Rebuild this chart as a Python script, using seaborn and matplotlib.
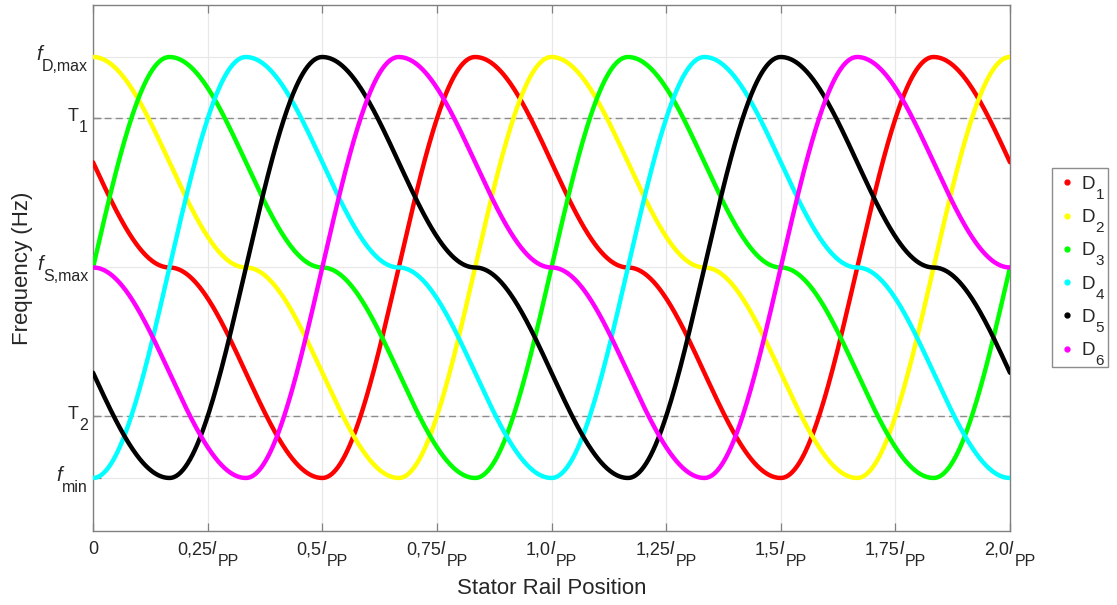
import numpy as np
import pandas as pd
import matplotlib
matplotlib.use("Agg")
import matplotlib.pyplot as plt
from matplotlib.lines import Line2D
from matplotlib.patches import Rectangle
from matplotlib.transforms import offset_copy, IdentityTransform
import seaborn as sns

# Frequency levels (normalised units)
F_MIN = 0.0
F_S_MAX = 0.5
F_D_MAX = 1.0
T1 = 0.855
T2 = 0.148

# One period of each detector signal, measured from its peak (in l_PP):
# peak -> stator plateau -> minimum -> next peak
CYCLE_PHASE = [0.0, 1 / 3, 2 / 3, 1.0]
CYCLE_LEVEL = [F_D_MAX, F_S_MAX, F_MIN, F_D_MAX]

# Detectors and the rail position of their first peak (l_PP)
DETECTORS = ["D1", "D2", "D3", "D4", "D5", "D6"]
PEAK_POS = [5 / 6, 0.0, 1 / 6, 2 / 6, 3 / 6, 4 / 6]
COLORS = ["#FF0000", "#FFFF00", "#00FF00", "#00FFFF", "#000000", "#FF00FF"]

X_TICKS = [0, 0.25, 0.5, 0.75, 1.0, 1.25, 1.5, 1.75, 2.0]
X_TICK_MAIN = ["0", "0,25", "0,5", "0,75", "1,0", "1,25", "1,5", "1,75", "2,0"]
Y_TICKS = [F_MIN, T2, F_S_MAX, T1, F_D_MAX]
Y_TICK_MAIN = ["f", "T", "f", "T", "f"]
Y_TICK_SUB = ["min", "2", "S,max", "1", "D,max"]

DPI = 100
PT = 72 / DPI  # points per pixel
TXT = "#262626"


def detector_curve(peak, x):
    """Smooth (half-cosine) transitions between the cycle key points."""
    kx, ky = [], []
    for k in range(-2, 4):
        for p, lv in zip(CYCLE_PHASE[:-1], CYCLE_LEVEL[:-1]):
            kx.append(peak + k + p)
            ky.append(lv)
    kx, ky = np.array(kx), np.array(ky)
    idx = np.searchsorted(kx, x, side="right") - 1
    t = (x - kx[idx]) / (kx[idx + 1] - kx[idx])
    w = 0.5 - 0.5 * np.cos(np.pi * t)
    return ky[idx] + (ky[idx + 1] - ky[idx]) * w


x = np.linspace(0, 2, 1201)
frames = []
for name, peak in zip(DETECTORS, PEAK_POS):
    frames.append(pd.DataFrame({"pos": x, "freq": detector_curve(peak, x), "det": name}))
df = pd.concat(frames, ignore_index=True)

sns.set_theme(style="white")
plt.rcParams["font.family"] = ["Liberation Sans", "DejaVu Sans"]

fig = plt.figure(figsize=(11.17, 6.05), dpi=DPI)
ax = fig.add_axes([0.0833, 0.1223, 0.9042 - 0.0833, 0.9917 - 0.1223])

sns.lineplot(data=df, x="pos", y="freq", hue="det", palette=COLORS,
             linewidth=3.2, legend=False, ax=ax, zorder=3)

ax.set_xlim(0, 2)
ax.set_ylim(-0.126, 1.1235)
ax.set_xticks(X_TICKS)
ax.set_xticklabels([""] * len(X_TICKS))
ax.set_yticks(Y_TICKS)
ax.set_yticklabels([""] * len(Y_TICKS))

ax.grid(True, color="#e8e8e8", linewidth=0.9, zorder=0)
for t in (T1, T2):
    ax.axhline(t, color="#8c8c8c", linestyle=(0, (5, 3)), linewidth=1.0, zorder=1)

for sp in ax.spines.values():
    sp.set_color("#808080")
    sp.set_linewidth(1.0)
ax.tick_params(direction="in", length=6, width=0.9, color="#808080",
               top=True, right=True, bottom=True, left=True)

ax.set_xlabel("Stator Rail Position", fontsize=16, color=TXT, labelpad=30)
ax.set_ylabel("Frequency (Hz)", fontsize=16, color=TXT, labelpad=40)

MAIN_FS, SUB_FS = 13, 11.5
renderer = fig.canvas.get_renderer()


def width_px(text):
    return text.get_window_extent(renderer).width


# x tick labels: value followed by an italic l with subscript PP
xtrans = ax.get_xaxis_transform()
for xv, m in zip(X_TICKS, X_TICK_MAIN):
    tm = ax.text(xv, 0, m, transform=xtrans, fontsize=MAIN_FS, color=TXT,
                 ha="left", va="baseline")
    parts = [tm]
    gaps = [0]
    if m != "0":
        tl = ax.text(xv, 0, "l", transform=xtrans, fontsize=MAIN_FS, color=TXT,
                     style="italic", ha="left", va="baseline")
        ts = ax.text(xv, 0, "PP", transform=xtrans, fontsize=SUB_FS, color=TXT,
                     ha="left", va="baseline")
        parts += [tl, ts]
        gaps += [0, 1.5]
    widths = [width_px(p) + g for p, g in zip(parts, gaps)]
    total = sum(widths)
    left = -total / 2
    drops = [23, 23, 35]
    for p, w, g, d in zip(parts, widths, gaps, drops):
        p.set_transform(offset_copy(xtrans, fig, x=(left + g) * PT, y=-d * PT,
                                    units="points"))
        left += w

# y tick labels: symbol with a lowered subscript, right-aligned to the axis
ytrans = ax.get_yaxis_transform()
for yv, m, s in zip(Y_TICKS, Y_TICK_MAIN, Y_TICK_SUB):
    ts = ax.text(0, yv, s, transform=ytrans, fontsize=SUB_FS, color=TXT,
                 ha="right", va="baseline")
    ts.set_transform(offset_copy(ytrans, fig, x=-5 * PT, y=-14 * PT, units="points"))
    ws = width_px(ts)
    italic = m == "f"
    tm = ax.text(0, yv, m, transform=ytrans, fontsize=MAIN_FS + (1.5 if italic else 0),
                 color=TXT, ha="right", va="baseline",
                 style="italic" if italic else "normal")
    tm.set_transform(offset_copy(ytrans, fig, x=(-5 - ws - (0 if italic else 1)) * PT,
                                 y=-3 * PT, units="points"))

# Legend: coloured dots and letter; the lowered index and the frame are
# added once the legend has been laid out
handles = [Line2D([], [], linestyle="none", marker="o", markersize=3.5,
                  markerfacecolor=c, markeredgecolor=c) for c in COLORS]
leg = fig.legend(handles, ["D"] * len(DETECTORS), loc="center left",
                 bbox_to_anchor=(1052 / 1117, 0.558), fontsize=13.5,
                 frameon=False, handlelength=0.8, handletextpad=0.35,
                 labelspacing=0.86, borderpad=0.4, borderaxespad=0)
leg.set_zorder(6)
for lt in leg.get_texts():
    lt.set_color(TXT)
fig.canvas.draw()
subs = []
for lt, name in zip(leg.get_texts(), DETECTORS):
    bx, by = lt.get_transform().transform(lt.get_position())
    ext = lt.get_window_extent(renderer)
    subs.append(fig.text(ext.x1 + 1, by - 10, name[1:], transform=IdentityTransform(),
                         fontsize=11, color=TXT, ha="left", va="baseline", zorder=10))
fig.canvas.draw()
px, py = leg.legendPatch.get_x(), leg.legendPatch.get_y()
ph = leg.legendPatch.get_height()
right = max(s.get_window_extent(renderer).x1 for s in subs) + 4
fig.add_artist(Rectangle((px, py), right - px, ph, transform=IdentityTransform(),
                         facecolor="white", edgecolor="#8c8c8c", linewidth=1.0,
                         zorder=4))

fig.savefig("out.png", dpi=DPI)
